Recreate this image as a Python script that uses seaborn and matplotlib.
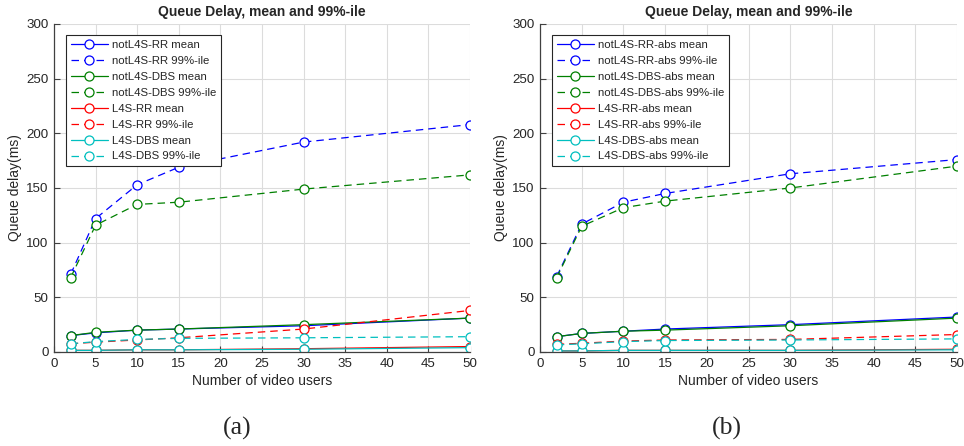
import matplotlib
matplotlib.use("Agg")
import matplotlib.pyplot as plt
import seaborn as sns
import pandas as pd

# Number of video users (x axis)
users = [2, 5, 10, 15, 30, 50]

# (a) queue delay in ms
a_notl4s_rr_mean = [15, 17.5, 20, 21, 24, 31]
a_notl4s_rr_p99 = [71, 122, 153, 169, 192, 208]
a_notl4s_dbs_mean = [15, 18, 20, 21, 25, 31]
a_notl4s_dbs_p99 = [68, 116, 135, 137, 149, 162]
a_l4s_rr_mean = [1.5, 1.5, 2, 2, 3, 5]
a_l4s_rr_p99 = [7.5, 9, 11, 13, 21, 38]
a_l4s_dbs_mean = [1.5, 1.5, 2, 2, 2.5, 4]
a_l4s_dbs_p99 = [7.5, 9.5, 11.5, 12.5, 13, 14]

# (b) queue delay in ms, "-abs" variants
b_notl4s_rr_mean = [14, 17, 19, 21, 25, 32]
b_notl4s_rr_p99 = [69, 117, 137, 145, 163, 176]
b_notl4s_dbs_mean = [14, 17, 19, 20, 24, 31]
b_notl4s_dbs_p99 = [68, 115, 132, 138, 150, 170]
b_l4s_rr_mean = [1, 1, 1.5, 1.5, 1.5, 2.5]
b_l4s_rr_p99 = [7, 8, 10, 11, 11.5, 16]
b_l4s_dbs_mean = [1, 1, 1.5, 1.5, 1.5, 2]
b_l4s_dbs_p99 = [6.5, 7.5, 9.5, 10.5, 11, 12]

title = "Queue Delay, mean and 99%-ile"
xlabel = "Number of video users"
ylabel = "Queue delay(ms)"

sns.set_theme(style="white")
plt.rcParams["font.family"] = ["Liberation Sans", "DejaVu Sans"]

BLUE = (0, 0, 1)
GREEN = (0, 0.5, 0)
RED = (1, 0, 0)
CYAN = (0, 0.75, 0.75)


def make_frame(series):
    rows = []
    for name, vals in series:
        for u, v in zip(users, vals):
            rows.append({"users": u, "delay": v, "series": name})
    return pd.DataFrame(rows)


def draw(ax, df, names):
    styles = [
        (BLUE, "-"), (BLUE, (0, (6, 4))),
        (GREEN, "-"), (GREEN, (0, (6, 4))),
        (RED, "-"), (RED, (0, (6, 4))),
        (CYAN, "-"), (CYAN, (0, (6, 4))),
    ]
    for name, (col, ls) in zip(names, styles):
        sub = df[df["series"] == name]
        sns.lineplot(data=sub, x="users", y="delay", ax=ax, color=col,
                     linestyle=ls, linewidth=0.9, marker="o", markersize=6.5,
                     markerfacecolor="white", markeredgecolor=col,
                     markeredgewidth=0.9, label=name, estimator=None,
                     sort=False)
    ax.set_xlim(0, 50)
    ax.set_ylim(0, 300)
    ax.set_xticks(range(0, 51, 5))
    ax.set_yticks(range(0, 301, 50))
    ax.grid(True, color="#dcdcdc", linewidth=0.8)
    ax.set_axisbelow(True)
    for s in ["top", "right"]:
        ax.spines[s].set_visible(False)
    for s in ["left", "bottom"]:
        ax.spines[s].set_color("#404040")
        ax.spines[s].set_linewidth(0.9)
    ax.tick_params(axis="both", direction="in", length=4, width=0.8,
                   color="#404040", labelsize=9.6, labelcolor="#262626",
                   left=True, bottom=True, pad=4)
    ax.set_title(title, fontsize=10, fontweight="bold", pad=6)
    ax.set_xlabel(xlabel, fontsize=10, color="#262626", labelpad=3)
    ax.set_ylabel(ylabel, fontsize=10, color="#262626", labelpad=3)
    leg = ax.legend(loc="upper left", bbox_to_anchor=(0.029, 0.965),
                    fontsize=8.2, frameon=True, fancybox=False,
                    edgecolor="#262626", framealpha=1, labelspacing=0.52,
                    handlelength=3.3, handletextpad=0.3, borderpad=0.4,
                    borderaxespad=0)
    leg.get_frame().set_linewidth(0.8)


names_a = ["notL4S-RR mean", "notL4S-RR 99%-ile",
           "notL4S-DBS mean", "notL4S-DBS 99%-ile",
           "L4S-RR mean", "L4S-RR 99%-ile",
           "L4S-DBS mean", "L4S-DBS 99%-ile"]
names_b = ["notL4S-RR-abs mean", "notL4S-RR-abs 99%-ile",
           "notL4S-DBS-abs mean", "notL4S-DBS-abs 99%-ile",
           "L4S-RR-abs mean", "L4S-RR-abs 99%-ile",
           "L4S-DBS-abs mean", "L4S-DBS-abs 99%-ile"]

df_a = make_frame(list(zip(names_a, [
    a_notl4s_rr_mean, a_notl4s_rr_p99, a_notl4s_dbs_mean, a_notl4s_dbs_p99,
    a_l4s_rr_mean, a_l4s_rr_p99, a_l4s_dbs_mean, a_l4s_dbs_p99])))
df_b = make_frame(list(zip(names_b, [
    b_notl4s_rr_mean, b_notl4s_rr_p99, b_notl4s_dbs_mean, b_notl4s_dbs_p99,
    b_l4s_rr_mean, b_l4s_rr_p99, b_l4s_dbs_mean, b_l4s_dbs_p99])))

W, H = 964, 446
fig = plt.figure(figsize=(W / 100, H / 100), dpi=100)
ax1 = fig.add_axes([54 / W, (H - 352) / H, 416 / W, 328 / H])
ax2 = fig.add_axes([540 / W, (H - 352) / H, 417 / W, 328 / H])

draw(ax1, df_a, names_a)
draw(ax2, df_b, names_b)

fig.text(237 / W, 1 - 428 / H, "(a)", ha="center", va="center",
         fontsize=18.5, family=["Liberation Serif", "DejaVu Serif"])
fig.text(727 / W, 1 - 428 / H, "(b)", ha="center", va="center",
         fontsize=18.5, family=["Liberation Serif", "DejaVu Serif"])

fig.savefig("out.png", dpi=100, facecolor="white")
